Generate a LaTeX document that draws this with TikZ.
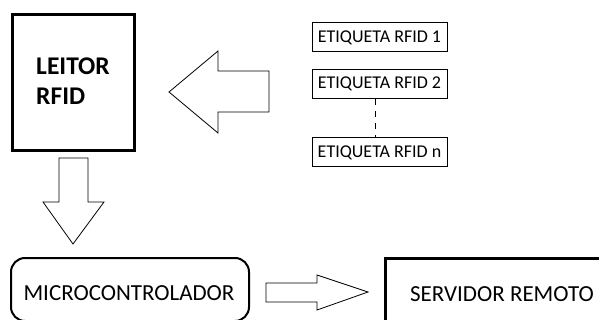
\documentclass[tikz,border=0pt]{standalone}
\usepackage{fontspec}
\setmainfont{Carlito}
\begin{document}
\begin{tikzpicture}[x=1pt,y=1pt,
  tagbox/.style={draw,line width=1pt,minimum width=135pt,minimum height=29pt,inner sep=0pt,font=\fontsize{18}{21}\selectfont},
  blockarrow/.style={draw,line width=0.8pt,line join=miter,fill=white},
  thickbox/.style={draw,line width=3pt,inner sep=0pt},
  bigtext/.style={font=\fontsize{23}{27}\selectfont}]
\useasboundingbox (0,0) rectangle (599,-320);
% LEITOR RFID
\node[thickbox,minimum width=122pt,minimum height=136pt] (leitor) at (73,-83) {};
\node[align=left,font=\bfseries\fontsize{25.5}{30}\selectfont,inner sep=0pt] (leitortxt) at (73,-81) {LEITOR\\RFID};
% tags
\node[tagbox] (t1) at (379.5,-37.5) {ETIQUETA RFID 1};
\node[tagbox] (t2) at (379.5,-84) {ETIQUETA RFID 2};
\node[tagbox] (tn) at (379.5,-152.5) {ETIQUETA RFID n};
\draw[line width=1pt,dash pattern=on 6pt off 6pt] ([xshift=-4pt]t2.south) -- ([xshift=-4pt]tn.north);
% left block arrow
\draw[blockarrow] (169,-92) -- (218,-51) -- (218,-71) -- (269,-71) -- (269,-112) -- (218,-112) -- (218,-133) -- cycle;
% down block arrow
\draw[blockarrow] (59,-158) -- (88,-158) -- (88,-202) -- (104,-202) -- (73,-244) -- (43,-202) -- (59,-202) -- cycle;
% MICROCONTROLADOR
\node[draw,line width=2pt,rounded corners=14pt,minimum width=238pt,minimum height=63pt,inner sep=0pt] (micro) at (130,-289.5) {};
\node[bigtext,inner sep=0pt] (microtxt) at (129,-293) {MICROCONTROLADOR};
% right block arrow
\draw[blockarrow] (266,-283) -- (317,-283) -- (317,-275) -- (368,-292) -- (317,-310) -- (317,-302) -- (266,-302) -- cycle;
% SERVIDOR REMOTO
\node[thickbox,minimum width=218pt,minimum height=66pt] (serv) at (494,-291) {};
\node[bigtext,inner sep=0pt] (servtxt) at (502,-294) {SERVIDOR REMOTO};
\end{tikzpicture}
\end{document}
